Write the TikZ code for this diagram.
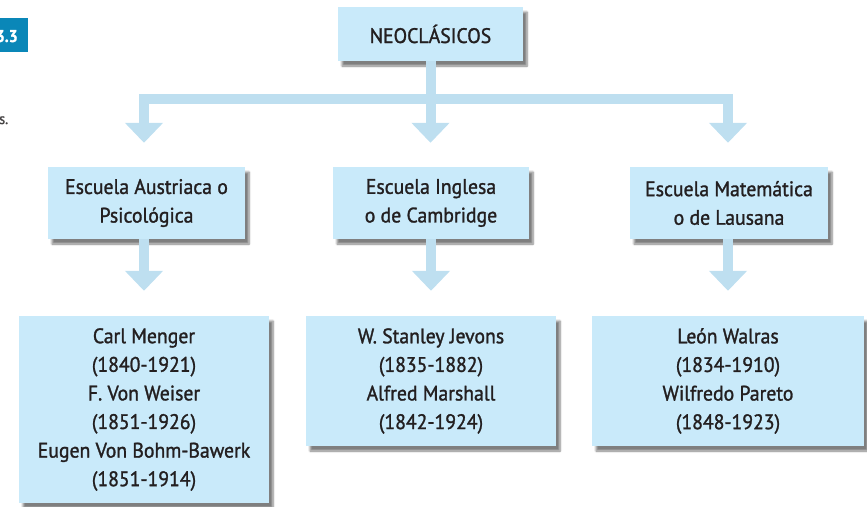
\documentclass[tikz,border=0pt]{standalone}
\usepackage{fontspec}
\setmainfont{PT Sans}[FakeStretch=0.94, FakeBold=1.3]
\usepackage{tikz}
\usetikzlibrary{calc}
\usetikzlibrary{arrows.meta}
\usetikzlibrary{shadows.blur}

\definecolor{boxblue}{HTML}{C9EAFA}
\definecolor{arrowblue}{HTML}{BEDFF0}
\definecolor{textgray}{HTML}{231F20}
\definecolor{tagblue}{HTML}{0A87B8}

\begin{document}
\begin{tikzpicture}[x=1pt, y=-1pt,
    box/.style={fill=boxblue, text=textgray, align=center, inner sep=0pt,
        font=\fontsize{21}{28.6}\selectfont,
        blur shadow={shadow xshift=4pt, shadow yshift=-5pt, shadow blur steps=6, shadow opacity=50}},
    flow/.style={draw=arrowblue, line width=10pt, line join=miter,
        -{Triangle[width=37pt, length=20pt]}}]
    \useasboundingbox (0,0) rectangle (867,506);

    % Draw the cut-off tag and caption on the left edge
    \fill[tagblue] (0,18) rectangle (28,52);
    \node[anchor=base east, inner sep=0pt, text=white, font=\bfseries\fontsize{17}{17}\selectfont] (tag) at (18,42) {3.3};
    \node[anchor=base west, inner sep=0pt, text=textgray!85, font=\fontsize{15}{15}\selectfont] (caption) at (-1,124) {s.};

    % Draw the top box and the three schools
    \node[box, minimum width=185pt, minimum height=54pt] (neo) at (430.5,34) {NEOCLÁSICOS};
    \node[box, minimum width=197pt, minimum height=72pt] (austriaca) at (146.5,203) {Escuela Austriaca o\\Psicológica};
    \node[box, minimum width=196pt, minimum height=72pt] (inglesa) at (431,203) {Escuela Inglesa\\o de Cambridge};
    \node[box, minimum width=198pt, minimum height=72pt] (matematica) at (729,203) {Escuela Matemática\\o de Lausana};

    % Draw the boxes with the economists
    \node[box, minimum width=250pt, minimum height=187pt] (menger) at (144,409.5)
        {Carl Menger\\(1840-1921)\\F. Von Weiser\\(1851-1926)\\Eugen Von Bohm-Bawerk\\(1851-1914)};
    \node[box, minimum width=250pt, minimum height=130pt] (jevons) at (431,381)
        {W. Stanley Jevons\\(1835-1882)\\Alfred Marshall\\(1842-1924)};
    \node[box, minimum width=272pt, minimum height=130pt] (walras) at (728,381)
        {León Walras\\(1834-1910)\\Wilfredo Pareto\\(1848-1923)};

    % Split the top box into the three schools
    \coordinate (bar) at ($(neo.south)+(0,37.5)$);
    \draw[flow, shorten >=24pt] (neo.south) -- (neo.south |- inglesa.north);
    \draw[flow, shorten >=24pt] (bar) -| (menger.north |- austriaca.north);
    \draw[flow, shorten >=24pt] (bar) -| (walras.north |- matematica.north);

    % Finally the arrows from each school to its economists
    \foreach \school/\people in {austriaca/menger, inglesa/jevons, matematica/walras}
    {
        \draw[flow, shorten >=25pt] (\people.north |- \school.south) -- (\people.north);
    }
\end{tikzpicture}
\end{document}
